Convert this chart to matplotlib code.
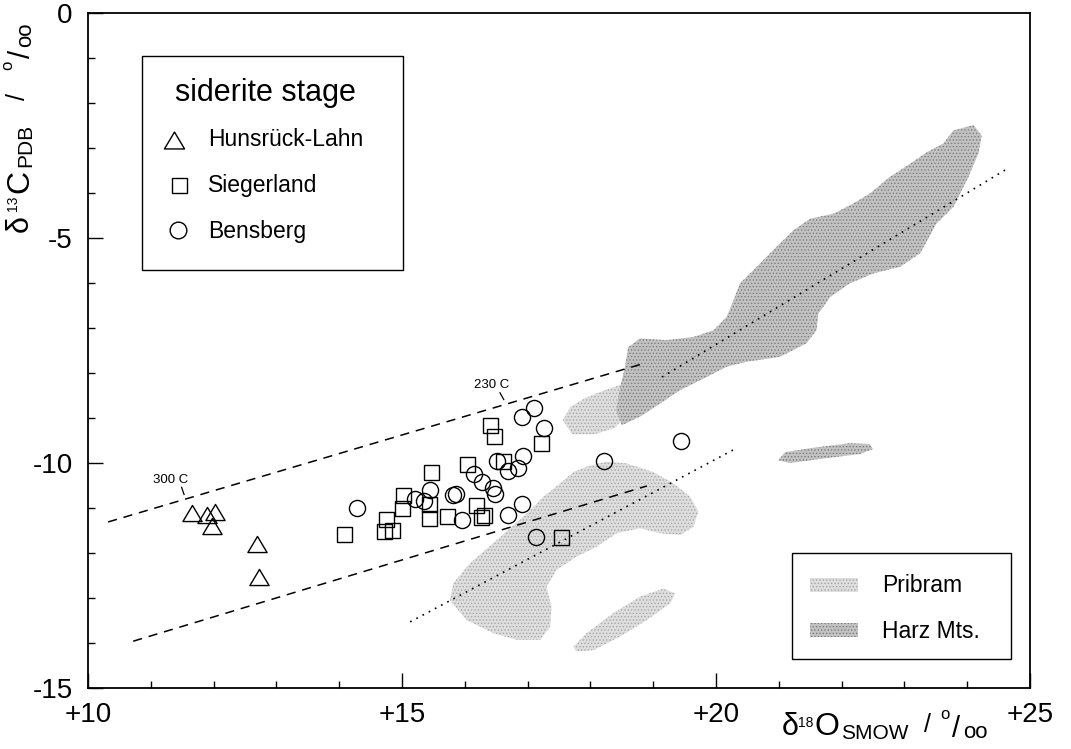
import numpy as np
import matplotlib
matplotlib.use("Agg")
import matplotlib.pyplot as plt
from matplotlib.patches import Polygon, Rectangle
from matplotlib.lines import Line2D
from matplotlib.path import Path
from matplotlib.transforms import Affine2D

plt.rcParams['font.family'] = ['Liberation Sans', 'DejaVu Sans']
plt.rcParams['hatch.linewidth'] = 0.6

W, H = 1071, 749

# siderite stage samples: d18O (SMOW) and d13C (PDB), permil
hunsrueck_o = [11.65, 11.90, 12.03, 11.97, 12.69, 12.73]
hunsrueck_c = [-11.12, -11.16, -11.08, -11.40, -11.79, -12.53]

siegerland_o = [14.07, 14.75, 14.72, 14.84, 15.02, 15.00, 15.46, 15.43, 15.43, 15.71,
                16.03, 16.18, 16.31, 16.26, 16.40, 16.46, 16.61, 17.21, 17.53]
siegerland_c = [-11.58, -11.25, -11.51, -11.49, -10.71, -11.00, -10.21, -10.90, -11.23, -11.18,
                -10.03, -10.94, -11.16, -11.19, -9.16, -9.40, -9.95, -9.55, -11.65]

bensberg_o = [14.29, 15.20, 15.35, 15.45, 15.82, 15.86, 15.96, 16.14, 16.27, 16.45, 16.48, 16.51,
              16.68, 16.85, 16.93, 16.69, 16.91, 16.91, 17.10, 17.26, 17.14, 18.22, 19.44]
bensberg_c = [-11.00, -10.79, -10.84, -10.59, -10.71, -10.68, -11.27, -10.25, -10.42, -10.56, -10.68, -9.95,
              -10.18, -10.10, -9.85, -11.16, -10.90, -8.97, -8.77, -9.22, -11.64, -9.95, -9.51]

# outlined fields (Harz Mts. and Pribram)
harz_o = [24.10, 24.23, 24.18, 24.02, 23.78, 23.51, 23.25, 22.93, 22.50, 22.13, 21.82, 21.63, 21.60,
          21.44, 21.02, 20.49, 20.17, 19.85, 19.43, 19.11, 18.79, 18.50, 18.41, 18.47, 18.55, 18.60,
          18.79, 19.21, 19.64, 19.96, 20.17, 20.28, 20.38, 20.59, 20.91, 21.23, 21.50, 21.87, 22.19,
          22.45, 22.77, 23.09, 23.36, 23.62, 23.78]
harz_c = [-2.49, -2.72, -3.12, -3.64, -4.31, -4.68, -5.34, -5.64, -5.79, -6.01, -6.31, -6.68, -7.05,
          -7.34, -7.64, -7.75, -7.86, -8.09, -8.38, -8.68, -8.97, -9.16, -8.83, -8.34, -7.87, -7.43,
          -7.23, -7.27, -7.20, -7.05, -6.75, -6.38, -6.01, -5.72, -5.27, -4.83, -4.57, -4.46, -4.23,
          -4.01, -3.64, -3.35, -3.09, -2.90, -2.61]
harz2_o = [20.99, 21.10, 21.50, 22.13, 22.45, 22.50, 22.29, 21.66, 21.18]
harz2_c = [-9.94, -9.76, -9.67, -9.56, -9.58, -9.69, -9.80, -9.91, -10.00]

pribram_o = [17.94, 18.26, 18.58, 19.00, 19.32, 19.59, 19.72, 19.64, 19.43, 19.11, 18.79, 18.42,
             18.10, 17.78, 17.46, 17.30, 17.38, 17.36, 17.20, 16.83, 16.45, 16.03, 15.76, 15.82,
             16.08, 16.51, 16.99, 17.25, 17.52, 17.73]
pribram_c = [-10.08, -9.97, -10.01, -10.20, -10.45, -10.75, -11.08, -11.42, -11.60, -11.56, -11.45, -11.56,
             -11.86, -12.08, -12.38, -12.75, -13.19, -13.64, -13.93, -13.93, -13.78, -13.49, -13.05, -12.67,
             -12.23, -11.71, -11.12, -10.75, -10.45, -10.20]
pribram2_o = [17.73, 17.94, 18.36, 18.79, 19.16, 19.35, 19.27, 18.90, 18.47, 18.05, 17.78]
pribram2_c = [-14.08, -13.78, -13.34, -12.97, -12.79, -12.90, -13.12, -13.49, -13.86, -14.16, -14.19]
pribram3_o = [17.56, 17.68, 17.91, 18.23, 18.55, 18.79, 18.63, 18.39, 18.07, 17.71]
pribram3_c = [-9.05, -8.76, -8.56, -8.38, -8.23, -8.29, -8.83, -9.22, -9.36, -9.36]

# trend lines
upper_dash_o, upper_dash_c = [10.32, 18.82], [-11.31, -7.80]
lower_dash_o, lower_dash_c = [10.72, 18.90], [-13.96, -10.51]
harz_trend_o, harz_trend_c = [19.14, 24.65], [-8.09, -3.45]
pribram_trend_o, pribram_trend_c = [15.13, 20.30], [-13.53, -9.69]

# temperature marks on the upper line: (label, text pos, tick start, tick end)
temp_marks = [("300 C", (11.31, -10.38), (11.49, -10.54), (11.53, -10.70)),
              ("230 C", (16.43, -8.27), (16.56, -8.44), (16.62, -8.59))]

HARZ_COL, HARZ_DOT = '#c2c2c2', '#7c7c7c'
PRIB_COL, PRIB_DOT = '#dedede', '#a6a6a6'

TRI = Path([(-1, -0.84), (1, -0.84), (0, 0.84), (-1, -0.84)], closed=True)

fig = plt.figure(figsize=(W / 100, H / 100), dpi=100)
ax = fig.add_axes([88 / W, 1 - 688 / H, (1030 - 88) / W, (688 - 13) / H])
PX = Affine2D().scale(1.0 / W, -1.0 / H).translate(0, 1) + fig.transFigure


def stipple(xy, col, dot, transform=None, **kw):
    p = Polygon(xy, closed=True, facecolor=col, edgecolor=dot, hatch='.....', lw=0, **kw)
    if transform is not None:
        p.set_transform(transform)
    return p


for xs, ys, col, dot in [(pribram_o, pribram_c, PRIB_COL, PRIB_DOT),
                         (pribram2_o, pribram2_c, PRIB_COL, PRIB_DOT),
                         (pribram3_o, pribram3_c, PRIB_COL, PRIB_DOT),
                         (harz_o, harz_c, HARZ_COL, HARZ_DOT),
                         (harz2_o, harz2_c, HARZ_COL, HARZ_DOT)]:
    ax.add_patch(stipple(np.column_stack([xs, ys]), col, dot, zorder=1))

ax.plot(upper_dash_o, upper_dash_c, color='k', lw=1.1, dashes=(6, 4.5), zorder=2)
ax.plot(lower_dash_o, lower_dash_c, color='k', lw=1.1, dashes=(6, 4.5), zorder=2)
ax.plot(harz_trend_o, harz_trend_c, color='k', lw=1.2, dashes=(1, 3.2), zorder=2)
ax.plot(pribram_trend_o, pribram_trend_c, color='k', lw=1.2, dashes=(1, 3.2), zorder=2)

for lab, tp, t0, t1 in temp_marks:
    ax.text(tp[0], tp[1], lab, fontsize=9.5, ha='center', va='center', zorder=3)
    ax.plot([t0[0], t1[0]], [t0[1], t1[1]], color='k', lw=0.9, zorder=3)

ax.plot(hunsrueck_o, hunsrueck_c, ls='none', marker=TRI, ms=13.8, mfc='none', mec='k', mew=1.0, zorder=4)
ax.plot(siegerland_o, siegerland_c, ls='none', marker='s', ms=10.8, mfc='none', mec='k', mew=1.0, zorder=4)
ax.plot(bensberg_o, bensberg_c, ls='none', marker='o', ms=11.6, mfc='none', mec='k', mew=1.0, zorder=4)

ax.set_xlim(10, 25)
ax.set_ylim(-15, 0)
ax.set_xticks([10, 15, 20, 25])
ax.set_xticklabels(['+10', '+15', '+20', '+25'])
ax.set_xticks(np.arange(10, 26), minor=True)
ax.set_yticks([0, -5, -10, -15])
ax.set_yticklabels(['0', '-5', '-10', '-15'])
ax.set_yticks(np.arange(-15, 1), minor=True)
ax.tick_params(which='both', direction='in', top=False, right=False, width=1.0)
ax.tick_params(which='major', length=10.8, labelsize=20)
ax.tick_params(axis='x', which='major', pad=10)
ax.tick_params(axis='y', which='major', pad=11)
ax.tick_params(which='minor', length=5)
for sp in ax.spines.values():
    sp.set_linewidth(1.3)


def rich_label(parts, base, vertical=False):
    """Each piece is (text, size, start_px, raise_px); baseline at `base`."""
    for s, fs, start, rise in parts:
        if vertical:
            fig.text(base - rise, start, s, fontsize=fs, transform=PX,
                     ha='left', va='baseline', rotation=90, rotation_mode='anchor')
        else:
            fig.text(start, base - rise, s, fontsize=fs, transform=PX,
                     ha='left', va='baseline')


# per-mille sign is lettered as raised o, slash and oo, as in the original
x_parts = [("δ", 22, 782, 0), ("18", 10, 798, 8), ("O", 23, 815, 0), ("SMOW", 15, 841, -4),
           ("/", 18, 924, 3), ("o", 12, 940, 16), ("/", 21, 952, -2), ("oo", 16, 963, -3)]
rich_label(x_parts, 735)
y_parts = [("δ", 22, 232, 0), ("13", 10, 211, 11), ("C", 23, 193, 0), ("PDB", 15, 167, -3),
           ("/", 18, 100, 3), ("o", 12, 70, 16), ("/", 21, 58, -2), ("oo", 16, 47, -3)]
rich_label(y_parts, 28, vertical=True)

# legend: siderite stage
fig.add_artist(Rectangle((142, 56), 261, 214, transform=PX, facecolor='white',
                         edgecolor='k', lw=1.0, zorder=5))
fig.text(175, 101, "siderite stage", fontsize=22, transform=PX, va='baseline', zorder=6)
stage_rows = [("Hunsrück-Lahn", TRI, 14.5, 174, 140, 146),
              ("Siegerland", 's', 10.8, 179, 185, 192),
              ("Bensberg", 'o', 12, 178, 230, 238)]
for lab, mk, ms, mx, my, by in stage_rows:
    fig.add_artist(Line2D([mx], [my], transform=PX, ls='none', marker=mk, ms=ms,
                          mfc='none', mec='k', mew=1.0, zorder=6))
    fig.text(208, by, lab, fontsize=16.5, transform=PX, va='baseline', zorder=6)

# legend: fields
fig.add_artist(Rectangle((792, 553), 219, 106, transform=PX, facecolor='white',
                         edgecolor='k', lw=1.0, zorder=5))
for lab, col, dot, py in [("Pribram", PRIB_COL, PRIB_DOT, 578), ("Harz Mts.", HARZ_COL, HARZ_DOT, 623)]:
    fig.add_artist(stipple([(810, py), (858, py), (858, py + 14), (810, py + 14)], col, dot,
                           transform=PX, zorder=6))
    fig.text(882, py + 14.5, lab, fontsize=16.5, transform=PX, va='baseline', zorder=6)

fig.savefig("out.png", dpi=100)
